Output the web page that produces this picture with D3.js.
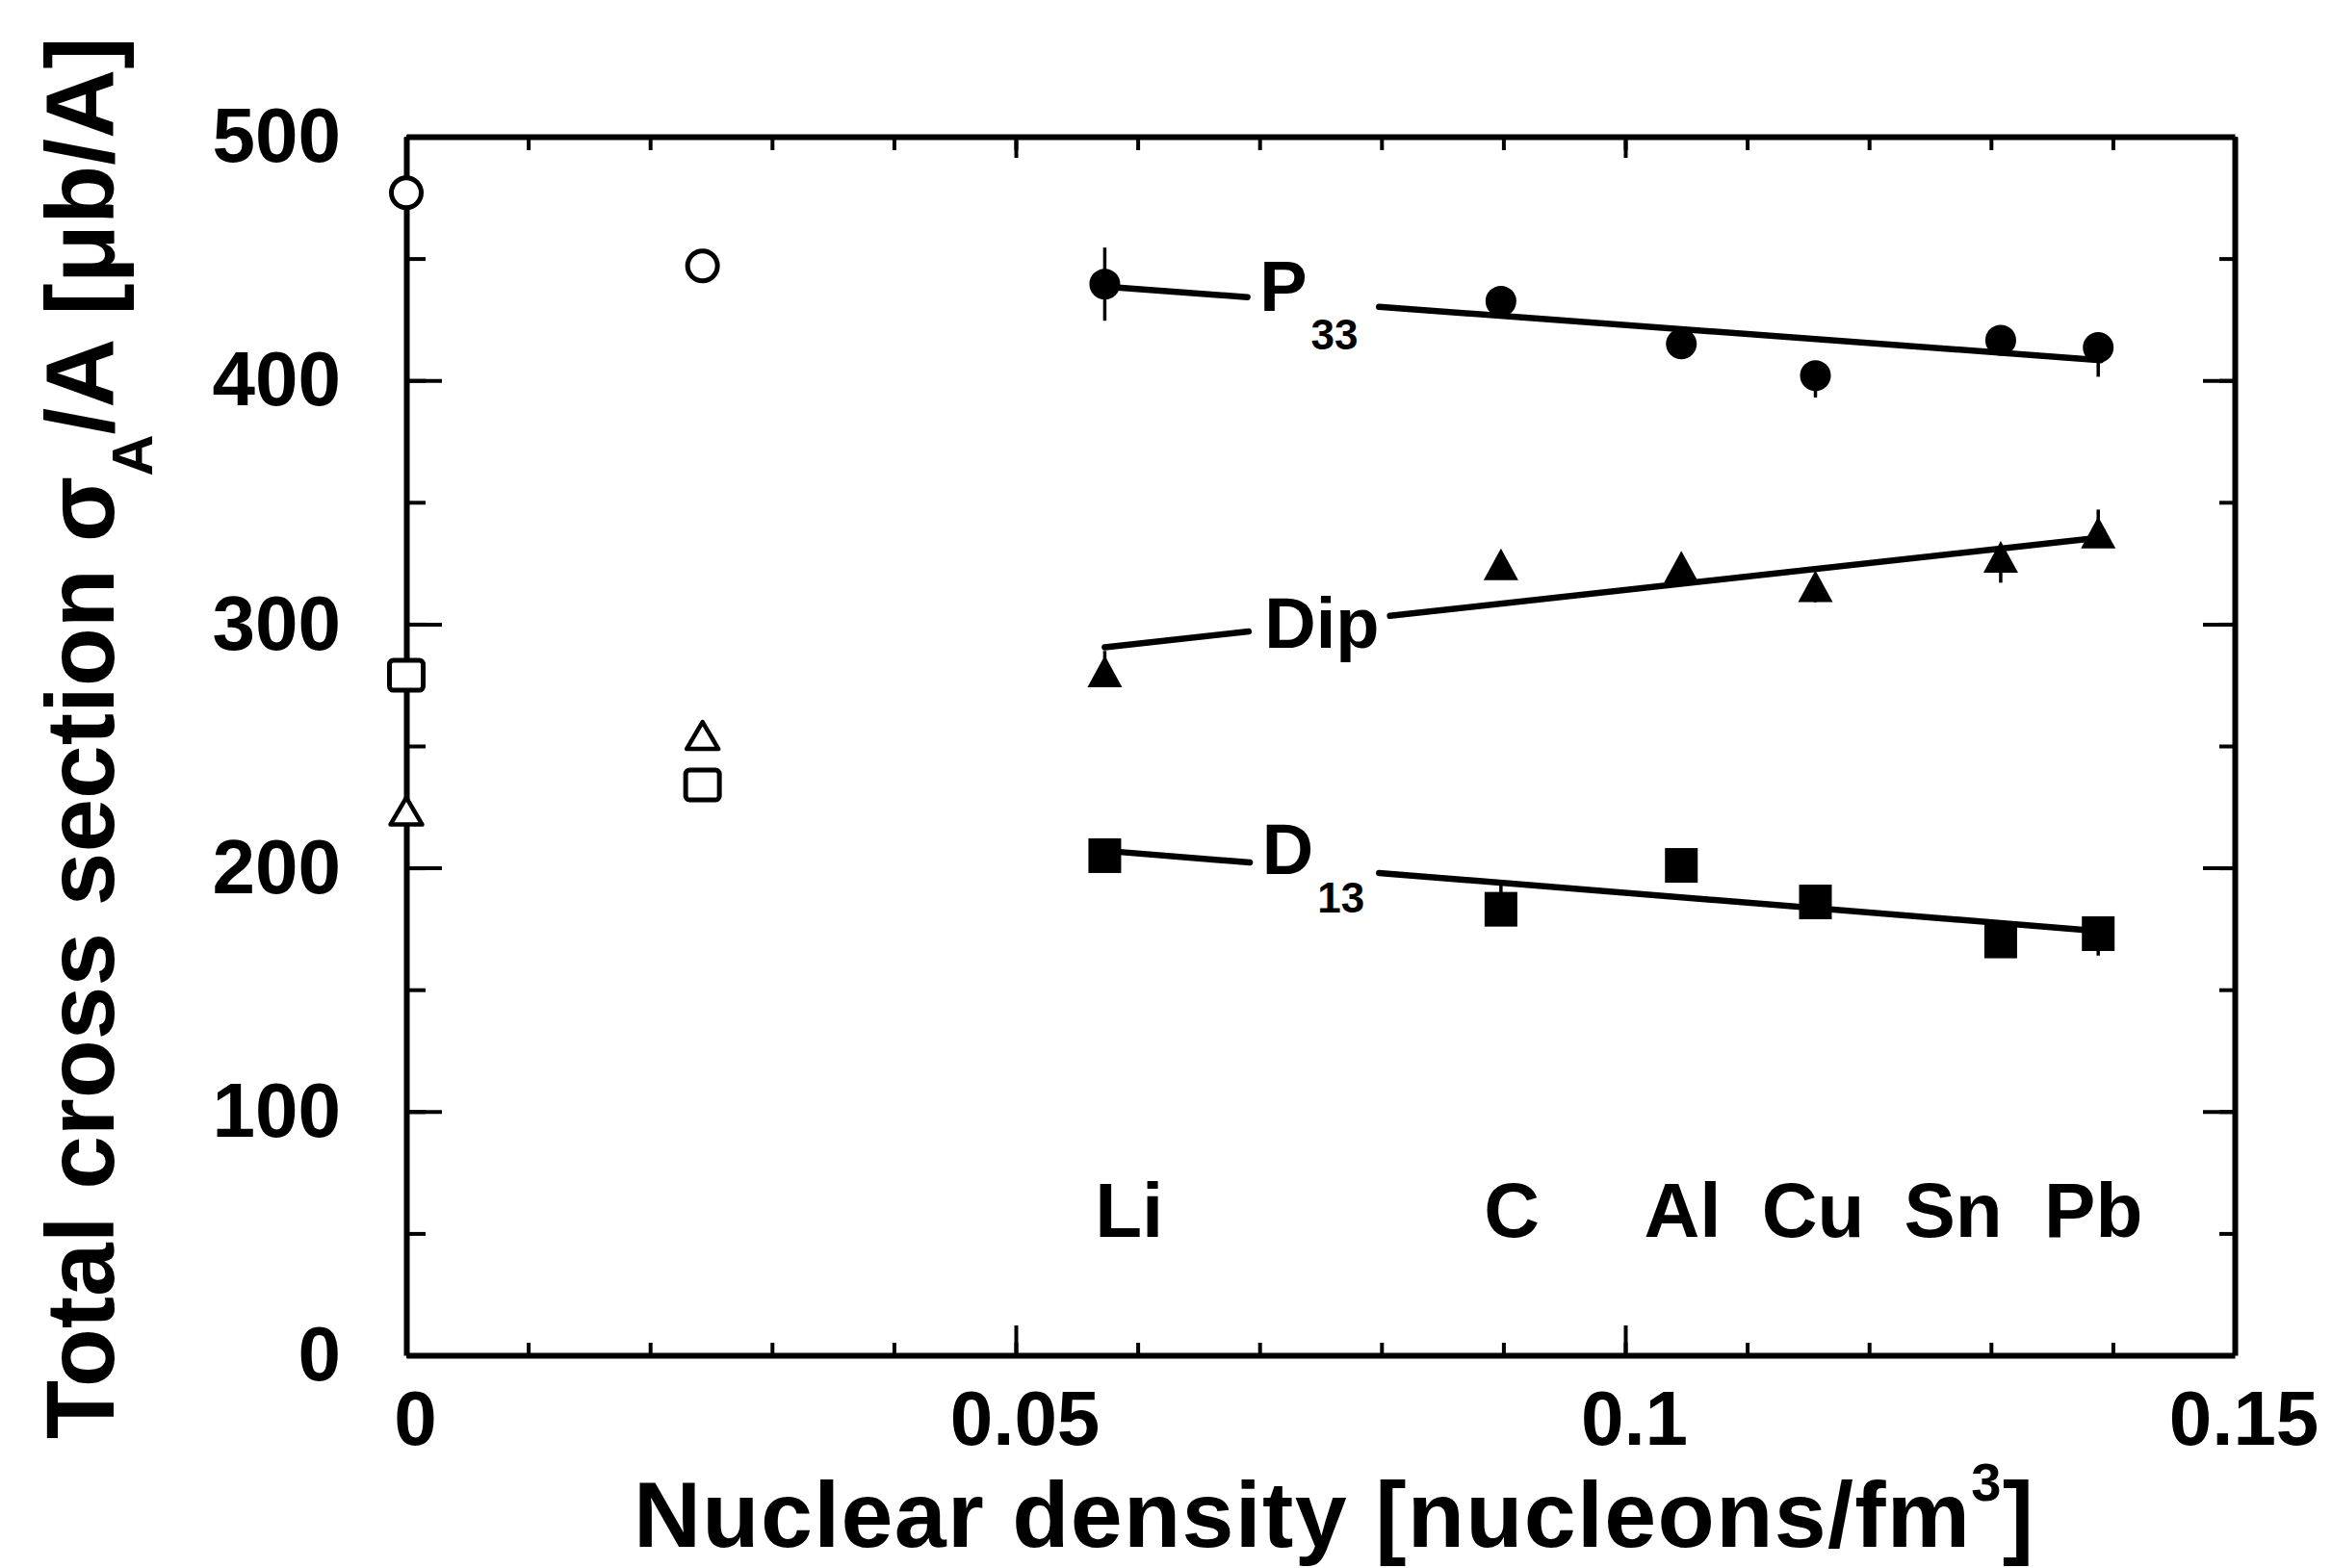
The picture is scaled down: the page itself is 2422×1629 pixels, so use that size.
<!DOCTYPE html>
<html><head><meta charset="utf-8">
<script src="https://cdn.jsdelivr.net/npm/d3@7/dist/d3.min.js"></script>
<style>
html,body{margin:0;padding:0;background:#fff;}
svg{display:block;}
text{font-family:"Liberation Sans",Arial,Helvetica,sans-serif;font-weight:bold;fill:#000;}
</style></head><body>
<svg id="chart" width="2422" height="1629"></svg>
<script>
// ---------------- data ----------------
const elements = ["Li", "C", "Al", "Cu", "Sn", "Pb"];
const density = [0.0573, 0.0898, 0.1046, 0.1156, 0.1308, 0.1388];
const p33 = [439.5, 432.5, 415, 402, 416.5, 413.5];
const p33ErrLow = [15, 3, 4, 9, 3, 12];
const p33ErrHigh = [15, 3, 4, 6, 3, 4];
const dip = [279, 323, 322, 314, 326, 336];
const dipErrLow = [3, 3, 3, 5, 9, 4];
const dipErrHigh = [10, 3, 3, 5, 3, 11];
const d13 = [205, 183, 201, 186, 170, 173];
const d13ErrLow = [3, 3, 3, 4, 6, 9];
const d13ErrHigh = [3, 11, 3, 4, 3, 3];

// open symbols (free nucleon, deuteron)
const openDensity = [0, 0.0243];
const openP33 = [477, 447];
const openDip = [222, 253];
const openD13 = [279, 234];

// straight-line fits
const fitX = [0.0573, 0.1390];
const p33Fit = [438.5, 408.3];
const dipFit = [290.5, 335.5];
const d13Fit = [207, 174];

// fit labels
const fitNames = ["P", "Dip", "D"];
const fitSubs = ["33", "", "13"];
const fitLabelX = [0.0700, 0.0704, 0.0702];
const fitLabelY = [428.4, 290.3, 197.5];
const fitGapStart = [0.0690, 0.0691, 0.0692];
const fitGapEnd = [0.0798, 0.0807, 0.0798];

// element labels
const elementLabelX = [0.0593, 0.0907, 0.1047, 0.1154, 0.1269, 0.1384];
const elementLabelY = 48.6;

// ticks
const xMajor = [0, 0.05, 0.1, 0.15];
const xMinor = [0, 0.01, 0.02, 0.03, 0.04, 0.05, 0.06, 0.07, 0.08, 0.09, 0.1, 0.11, 0.12, 0.13, 0.14, 0.15];
const xTickLabels = ["0", "0.05", "0.1", "0.15"];
const yMajor = [0, 100, 200, 300, 400, 500];
const yMinor = [0, 50, 100, 150, 200, 250, 300, 350, 400, 450, 500];

const xTitle = "Nuclear density [nucleons/fm";
const yTitleA = "Total cross section σ";
const yTitleB = "/A [μb/A]";

// ---------------- drawing ----------------
const svg = d3.select("#chart");
const FONT = '"Liberation Sans", Arial, Helvetica, sans-serif';
const x = d3.scaleLinear().domain([0, 0.15]).range([422, 2321]);
const y = d3.scaleLinear().domain([0, 500]).range([1408, 142]);

function styleAxis(g, fs) {
  g.attr("font-family", FONT).attr("font-size", fs).attr("font-weight", "bold");
  g.selectAll(".tick line").attr("stroke", "#000").attr("stroke-width", 4);
  g.select(".domain").attr("stroke", "#000").attr("stroke-width", 6);
  g.selectAll("text").attr("fill", "#000");
}

// minor ticks
svg.append("g").attr("transform", `translate(0,${y(0)})`)
  .call(d3.axisBottom(x).tickValues(xMinor).tickSizeInner(-13).tickSizeOuter(0).tickFormat(""))
  .call(g => { styleAxis(g, 80); g.select(".domain").remove(); });
svg.append("g").attr("transform", `translate(0,${y(500)})`)
  .call(d3.axisTop(x).tickValues(xMinor).tickSizeInner(-14).tickSizeOuter(0).tickFormat(""))
  .call(g => { styleAxis(g, 80); g.select(".domain").remove(); });
svg.append("g").attr("transform", `translate(${x(0)},0)`)
  .call(d3.axisLeft(y).tickValues(yMinor).tickSizeInner(-20).tickSizeOuter(0).tickFormat(""))
  .call(g => { styleAxis(g, 80); g.select(".domain").remove(); });
svg.append("g").attr("transform", `translate(${x(0.15)},0)`)
  .call(d3.axisRight(y).tickValues(yMinor).tickSizeInner(-16).tickSizeOuter(0).tickFormat(""))
  .call(g => { styleAxis(g, 80); g.select(".domain").remove(); });

// major ticks + frame
svg.append("g").attr("transform", `translate(0,${y(0)})`)
  .call(d3.axisBottom(x).tickValues(xMajor).tickSizeInner(-31).tickSizeOuter(0).tickPadding(36)
    .tickFormat((d, i) => xTickLabels[i]))
  .call(g => { styleAxis(g, 80); g.selectAll("text").attr("dx", 9); });
svg.append("g").attr("transform", `translate(0,${y(500)})`)
  .call(d3.axisTop(x).tickValues(xMajor).tickSizeInner(-22).tickSizeOuter(0).tickFormat(""))
  .call(g => styleAxis(g, 80));
svg.append("g").attr("transform", `translate(${x(0)},0)`)
  .call(d3.axisLeft(y).tickValues(yMajor).tickSizeInner(-37).tickSizeOuter(0).tickPadding(68)
    .tickFormat(d3.format("d")))
  .call(g => styleAxis(g, 80));
svg.append("g").attr("transform", `translate(${x(0.15)},0)`)
  .call(d3.axisRight(y).tickValues(yMajor).tickSizeInner(-33).tickSizeOuter(0).tickFormat(""))
  .call(g => styleAxis(g, 80));

// fit lines with gaps for labels
const fits = [p33Fit, dipFit, d13Fit];
const lineGen = d3.line().x(d => x(d[0])).y(d => y(d[1]));
fits.forEach((f, i) => {
  const fy = d3.scaleLinear().domain(fitX).range(f);
  const segs = [[fitX[0], fitGapStart[i]], [fitGapEnd[i], fitX[1]]];
  segs.forEach(s => {
    svg.append("path")
      .attr("d", lineGen(s.map(v => [v, fy(v)])))
      .attr("fill", "none").attr("stroke", "#000").attr("stroke-width", 6.5)
      .attr("stroke-linecap", "round");
  });
  const t = svg.append("text")
    .attr("x", x(fitLabelX[i])).attr("y", y(fitLabelY[i]))
    .attr("font-size", 74).text(fitNames[i]);
  if (fitSubs[i]) {
    t.append("tspan").attr("font-size", 44).attr("dy", 40).attr("dx", 4).text(fitSubs[i]);
  }
});

// error bars
const series = [
  {vals: p33, lo: p33ErrLow, hi: p33ErrHigh, shape: "circle"},
  {vals: dip, lo: dipErrLow, hi: dipErrHigh, shape: "triangle"},
  {vals: d13, lo: d13ErrLow, hi: d13ErrHigh, shape: "square"}
];
series.forEach(s => {
  svg.append("g").selectAll("line").data(s.vals).join("line")
    .attr("x1", (d, i) => x(density[i])).attr("x2", (d, i) => x(density[i]))
    .attr("y1", (d, i) => y(d - s.lo[i])).attr("y2", (d, i) => y(d + s.hi[i]))
    .attr("stroke", "#000").attr("stroke-width", 3.5);
});

const triPath = (w, h) => `M0,${-h * 0.62}L${w / 2},${h * 0.38}L${-w / 2},${h * 0.38}Z`;

// filled markers
series.forEach(s => {
  const g = svg.append("g");
  if (s.shape === "circle") {
    g.selectAll("circle").data(s.vals).join("circle")
      .attr("cx", (d, i) => x(density[i])).attr("cy", d => y(d)).attr("r", 16).attr("fill", "#000");
  } else if (s.shape === "square") {
    g.selectAll("rect").data(s.vals).join("rect")
      .attr("x", (d, i) => x(density[i]) - 17).attr("y", d => y(d) - 18)
      .attr("width", 34).attr("height", 36).attr("fill", "#000");
  } else {
    g.selectAll("path").data(s.vals).join("path")
      .attr("transform", (d, i) => `translate(${x(density[i])},${y(d)})`)
      .attr("d", triPath(36, 33)).attr("fill", "#000");
  }
});

// open markers
svg.append("g").selectAll("circle").data(openP33).join("circle")
  .attr("cx", (d, i) => x(openDensity[i])).attr("cy", d => y(d)).attr("r", 15.5)
  .attr("fill", "#fff").attr("stroke", "#000").attr("stroke-width", 5);
svg.append("g").selectAll("rect").data(openD13).join("rect")
  .attr("x", (d, i) => x(openDensity[i]) - 17.5).attr("y", d => y(d) - 15.5)
  .attr("width", 35).attr("height", 31).attr("rx", 4)
  .attr("fill", "#fff").attr("stroke", "#000").attr("stroke-width", 5);
svg.append("g").selectAll("path").data(openDip).join("path")
  .attr("transform", (d, i) => `translate(${x(openDensity[i])},${y(d)})`)
  .attr("d", triPath(33, 28)).attr("stroke-linejoin", "round")
  .attr("fill", "#fff").attr("stroke", "#000").attr("stroke-width", 4.5);

// element labels
svg.append("g").selectAll("text").data(elements).join("text")
  .attr("x", (d, i) => x(elementLabelX[i])).attr("y", y(elementLabelY))
  .attr("text-anchor", "middle").attr("font-size", 80).text(d => d);

// axis titles
const xt = svg.append("text").attr("x", 658).attr("y", 1607).attr("font-size", 97)
  .attr("letter-spacing", 1.3).text(xTitle);
xt.append("tspan").attr("font-size", 56).attr("dy", -48).text("3");
xt.append("tspan").attr("font-size", 97).attr("dy", 48).text("]");

const yt = svg.append("text").attr("transform", "translate(118,1495) rotate(-90)")
  .attr("font-size", 100).text(yTitleA);
yt.append("tspan").attr("font-size", 60).attr("dy", 40).text("A");
yt.append("tspan").attr("font-size", 100).attr("dy", -40).text(yTitleB);
</script>
</body></html>
